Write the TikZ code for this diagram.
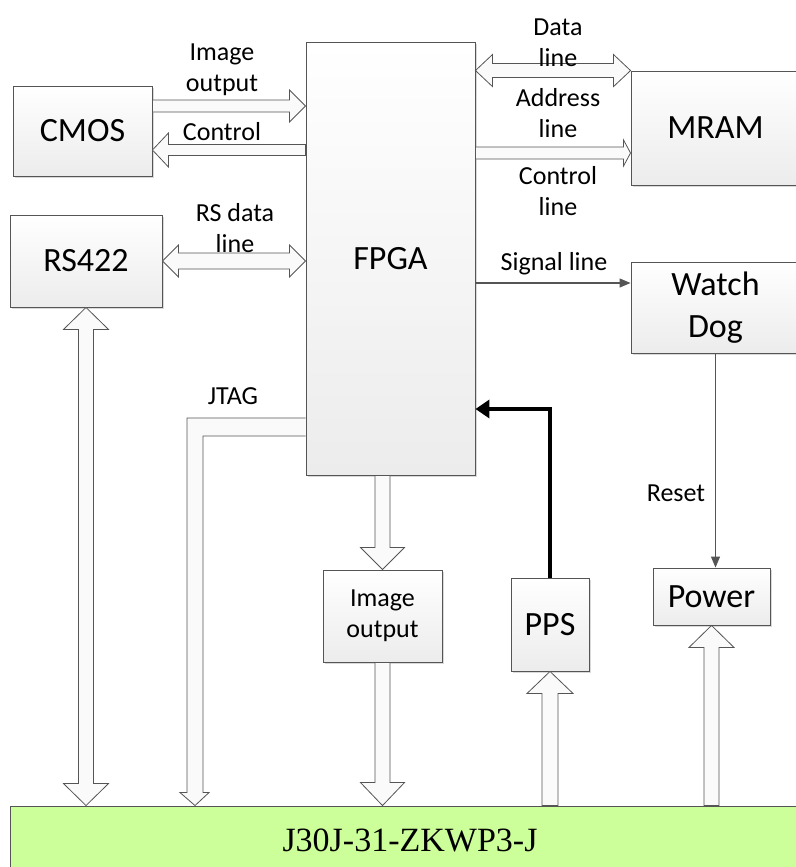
\documentclass[tikz,border=0pt]{standalone}
\usepackage{fontspec}
\setmainfont{Carlito}
\newfontfamily\connfont{Liberation Serif}
\usetikzlibrary{calc, arrows.meta, shadows}

\definecolor{edge}{RGB}{85,85,85}
\definecolor{shade}{RGB}{236,236,236}
\definecolor{conngreen}{RGB}{204,255,153}

\newcommand{\bigtxt}{\fontsize{34}{42}\selectfont}
\newcommand{\smalltxt}{\fontsize{26}{31}\selectfont}

% hollow block arrow: tail, tip, shaft half width, head half width, head length
\newcommand{\barrow}[5]{%
	\draw[blockarr] let \p1=(#1), \p2=(#2), \n1={atan2(\y2-\y1,\x2-\x1)}, \n2={veclen(\x2-\x1,\y2-\y1)} in
		[shift={(\p1)}, rotate=\n1] (0,#3) -- ({\n2-#5},#3) -- ({\n2-#5},#4) -- (\n2,0)
		-- ({\n2-#5},-#4) -- ({\n2-#5},-#3) -- (0,-#3) -- cycle;}
% same with a head at both ends
\newcommand{\dbarrow}[5]{%
	\draw[blockarr] let \p1=(#1), \p2=(#2), \n1={atan2(\y2-\y1,\x2-\x1)}, \n2={veclen(\x2-\x1,\y2-\y1)} in
		[shift={(\p1)}, rotate=\n1] (0,0) -- (#5,#4) -- (#5,#3) -- ({\n2-#5},#3) -- ({\n2-#5},#4) -- (\n2,0)
		-- ({\n2-#5},-#4) -- ({\n2-#5},-#3) -- (#5,-#3) -- (#5,-#4) -- cycle;}

\begin{document}
\begin{tikzpicture}[x=1pt, y=1pt,
		box/.style={draw=edge, line width=0.9pt, top color=white, bottom color=shade,
			drop shadow={shadow xshift=2pt, shadow yshift=-2pt, opacity=0.15, fill=black},
			inner sep=0pt, align=center, font=\bigtxt},
		lbl/.style={inner sep=0pt, align=center, font=\smalltxt},
		blockarr/.style={draw=edge, line width=0.8pt, fill=gray!4},
		sigline/.style={draw=edge, line width=1.1pt, -{Triangle[length=11pt, width=9pt]}},
		ppsline/.style={draw=black, line width=3.5pt, -{Triangle[length=14pt, width=18pt]}}]
	\useasboundingbox (0,0) rectangle (795,-867);

	% blocks
	\node[box, minimum width=139pt, minimum height=90pt] (cmos) at (82.5,-131) {CMOS};
	\node[box, minimum width=152pt, minimum height=92pt] (rs422) at (86,-261) {RS422};
	\node[box, minimum width=169pt, minimum height=433pt] (fpga) at (390.5,-258.5) {FPGA};
	\node[box, minimum width=169pt, minimum height=114pt] (mram) at (715.5,-128) {MRAM};
	\node[box, minimum width=169pt, minimum height=91pt] (watchdog) at (715.5,-307.5) {Watch\\Dog};
	\node[box, minimum width=119pt, minimum height=92pt, font=\smalltxt] (imgout) at (382.5,-616) {Image\\output};
	\node[box, minimum width=78pt, minimum height=93pt] (pps) at (550,-624.5) {PPS};
	\node[box, minimum width=117pt, minimum height=57pt] (power) at (711.5,-596.5) {Power};
	\node[draw=edge, line width=0.9pt, fill=conngreen, minimum width=800pt, minimum height=68pt,
		font=\connfont\fontsize{34}{40}\selectfont] (conn) at (410,-840) {J30J-31-ZKWP3-J};

	\coordinate (imgin) at ([yshift=25pt]cmos.east);
	\coordinate (ctlout) at ([yshift=-19pt]cmos.east);
	\coordinate (ctlmram) at ([yshift=-25pt]mram.west);
	\coordinate (sig) at ([yshift=24.5pt]watchdog.west);
	\coordinate (ppsin) at ([yshift=-150.5pt]fpga.east);
	\coordinate (jtagA) at ([yshift=-159.5pt]fpga.west);
	\coordinate (jtagB) at ([yshift=-177.5pt]fpga.west);
	\coordinate (jtagtip) at (conn.north -| 195,0);

	% bus arrows
	\barrow{imgin}{fpga.west |- imgin}{6}{16}{16}
	\barrow{fpga.west |- ctlout}{ctlout}{5.5}{17}{16}
	\dbarrow{rs422.east}{fpga.west |- rs422.east}{8}{16}{16}
	\dbarrow{fpga.east |- mram.north west}{mram.north west}{7}{16}{17}
	\barrow{fpga.east |- ctlmram}{ctlmram}{6}{13}{7}
	\barrow{imgout.north |- fpga.south}{imgout.north}{7.5}{22}{22}
	\barrow{imgout.south}{imgout.south |- conn.north}{7.5}{22}{23}
	\dbarrow{rs422.south}{rs422.south |- conn.north}{7.5}{22.5}{22}
	\barrow{pps.south |- conn.north}{pps.south}{8}{23}{22}
	\barrow{power.south |- conn.north}{power.south}{7.5}{22.5}{22}
	\draw[blockarr] (jtagA) -- ($(jtagA -| jtagtip)+(-8,0)$) -- ($(jtagtip)+(-8,13)$) -- ($(jtagtip)+(-15,13)$)
		-- (jtagtip) -- ($(jtagtip)+(14,13)$) -- ($(jtagtip)+(8,13)$) -- ($(jtagB -| jtagtip)+(8,0)$) -- (jtagB);

	% signal lines
	\draw[sigline] (fpga.east |- sig) -- (sig);
	\draw[sigline] (watchdog.south) -- (watchdog.south |- power.north);
	\draw[ppsline] (pps.north) |- (ppsin);

	% labels
	\node[lbl] (limg) at (222,-70) {Image\\output};
	\node[lbl] (lctl) at (222,-132) {Control};
	\node[lbl] (lrs) at (235,-228) {RS data\\line};
	\node[lbl] (ldata) at (558,-43) {Data\\line};
	\node[lbl] (laddr) at (558,-113) {Address\\line};
	\node[lbl] (lctlm) at (558,-191) {Control\\line};
	\node[lbl] (lsig) at (554,-264) {Signal line};
	\node[lbl] (ljtag) at (233,-396) {JTAG};
	\node[lbl] (lreset) at (676,-493) {Reset};
\end{tikzpicture}
\end{document}
